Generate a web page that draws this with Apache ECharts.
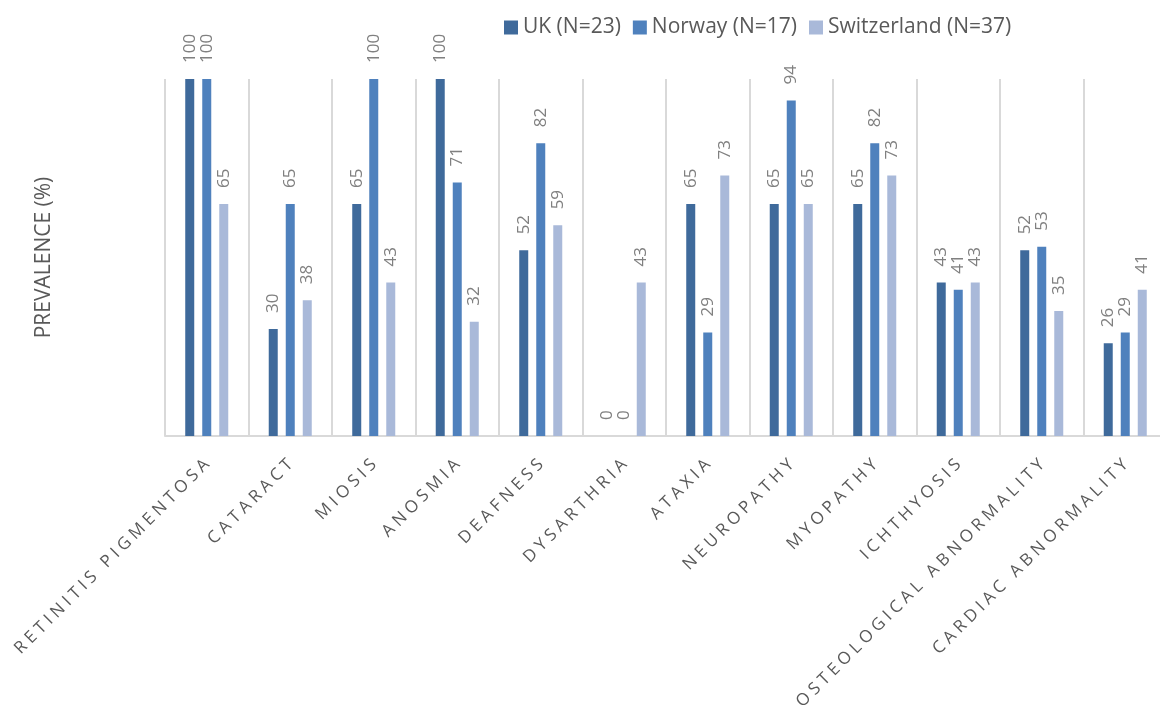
<!DOCTYPE html>
<html>
<head>
<meta charset="utf-8">
<script src="https://cdn.jsdelivr.net/npm/echarts@6/dist/echarts.min.js"></script>
<style>
  html, body { margin: 0; padding: 0; background: #fff; }
  #chart { width: 1160px; height: 705px; }
</style>
</head>
<body>
<div id="chart"></div>
<script>
// categories along the x axis
var categories = ['RETINITIS PIGMENTOSA', 'CATARACT', 'MIOSIS', 'ANOSMIA', 'DEAFNESS', 'DYSARTHRIA',
  'ATAXIA', 'NEUROPATHY', 'MYOPATHY', 'ICHTHYOSIS', 'OSTEOLOGICAL ABNORMALITY', 'CARDIAC ABNORMALITY'];
var seriesNames = ['UK (N=23)', 'Norway (N=17)', 'Switzerland (N=37)'];
var ukValues = [100, 30, 65, 100, 52, 0, 65, 65, 65, 43, 52, 26];
var norwayValues = [100, 65, 100, 71, 82, 0, 29, 94, 82, 41, 53, 29];
var swissValues = [65, 38, 43, 32, 59, 43, 73, 65, 73, 43, 35, 41];

var colors = ['#3f6a9b', '#4f81bd', '#a9b9d9'];
var font = 'Open Sans, Liberation Sans, sans-serif';

var myChart = echarts.init(document.getElementById('chart'));

function makeSeries(name, data, color) {
  return {
    name: name,
    type: 'bar',
    data: data,
    barWidth: 9,
    barGap: '89%',
    itemStyle: { color: color },
    label: {
      show: true,
      position: 'top',
      rotate: 90,
      align: 'left',
      verticalAlign: 'middle',
      distance: 16,
      color: '#808080',
      fontSize: 17,
      fontFamily: font
    }
  };
}

var option = {
  animation: false,
  textStyle: { fontFamily: font },
  legend: {
    data: seriesNames,
    left: 499,
    top: 12,
    itemWidth: 14,
    itemHeight: 14,
    itemGap: 12,
    icon: 'rect',
    textStyle: { color: '#595959', fontSize: 21, fontFamily: font }
  },
  grid: {
    left: 165,
    top: 79,
    width: 1002,
    bottom: 269,
    containLabel: false,
    outerBoundsMode: 'none'
  },
  xAxis: {
    type: 'category',
    data: categories,
    axisLine: { show: true, lineStyle: { color: '#d9d9d9', width: 2 } },
    axisTick: { show: false },
    splitLine: { show: true, lineStyle: { color: '#d9d9d9', width: 2 } },
    axisLabel: {
      interval: 0,
      rotate: 45,
      margin: 26,
      color: '#595959',
      fontSize: 17,
      fontFamily: font,
      formatter: function (v) { return v.split('').join('\u2005'); }
    }
  },
  yAxis: {
    type: 'value',
    min: 0,
    max: 100,
    name: 'PREVALENCE (%)',
    nameLocation: 'middle',
    nameGap: 110,
    nameTextStyle: { color: '#595959', fontSize: 21, fontFamily: font },
    axisLine: { show: false },
    axisTick: { show: false },
    axisLabel: { show: false },
    splitLine: { show: false }
  },
  series: [
    makeSeries(seriesNames[0], ukValues, colors[0]),
    makeSeries(seriesNames[1], norwayValues, colors[1]),
    makeSeries(seriesNames[2], swissValues, colors[2])
  ]
};

myChart.setOption(option);
</script>
</body>
</html>
